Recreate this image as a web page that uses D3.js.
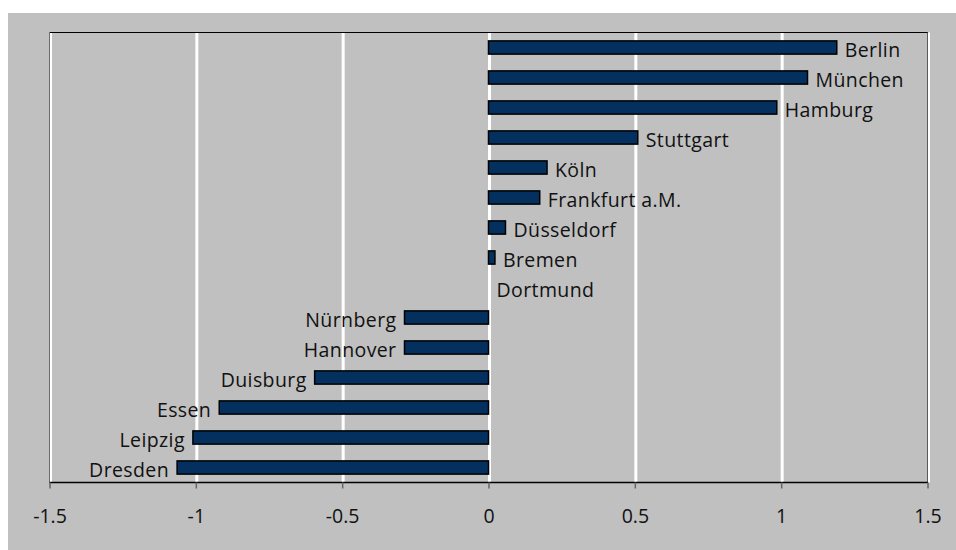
<!DOCTYPE html>
<html>
<head>
<meta charset="utf-8">
<script src="https://cdn.jsdelivr.net/npm/d3@7"></script>
<style>
  html, body { margin: 0; padding: 0; background: #ffffff; }
  svg { display: block; }
  text { font-family: "Open Sans", "Noto Sans", sans-serif; fill: #111; }
</style>
</head>
<body>
<svg id="chart" width="956" height="550"></svg>
<script>
const cities = ["Berlin","München","Hamburg","Stuttgart","Köln","Frankfurt a.M.","Düsseldorf","Bremen","Dortmund","Nürnberg","Hannover","Duisburg","Essen","Leipzig","Dresden"];
const values = [1.19, 1.09, 0.985, 0.51, 0.2, 0.175, 0.058, 0.022, 0, -0.287, -0.287, -0.594, -0.92, -1.01, -1.064];
const xTicks = [-1.5, -1, -0.5, 0, 0.5, 1, 1.5];
const xDomain = [-1.5, 1.5];

const svg = d3.select("#chart");
const W = 956, H = 550;
const bg = {x: 8, y: 13};
const m = {left: 49.5, right: 928, top: 32.5, bottom: 482.5};

svg.append("rect").attr("x", bg.x).attr("y", bg.y)
  .attr("width", W - bg.x).attr("height", H - bg.y).attr("fill", "#c0c0c0");

const x = d3.scaleLinear().domain(xDomain).range([m.left, m.right - 0.5]);
const y = d3.scaleBand().domain(cities).range([m.top, m.bottom]).paddingInner(0.56).paddingOuter(0.28);

// gridlines
svg.append("g").selectAll("line").data(xTicks).join("line")
  .attr("x1", d => x(d) + 1).attr("x2", d => x(d) + 1)
  .attr("y1", m.top).attr("y2", m.bottom)
  .attr("stroke", "#ffffff").attr("stroke-width", 3);

// plot border
svg.append("line").attr("x1", m.left).attr("x2", m.right).attr("y1", m.top).attr("y2", m.top)
  .attr("stroke", "#000").attr("stroke-width", 1);
svg.append("line").attr("x1", m.left).attr("x2", m.left).attr("y1", m.top).attr("y2", m.bottom)
  .attr("stroke", "#6e6e6e").attr("stroke-width", 1);
svg.append("line").attr("x1", m.right - 0.5).attr("x2", m.right - 0.5).attr("y1", m.top).attr("y2", m.bottom)
  .attr("stroke", "#5a5a5a").attr("stroke-width", 1);

// bars
const data = cities.map((c, i) => ({c, v: values[i]}));
svg.append("g").selectAll("rect").data(data.filter(d => d.v !== 0)).join("rect")
  .attr("x", d => x(Math.min(0, d.v)))
  .attr("y", d => y(d.c))
  .attr("width", d => Math.abs(x(d.v) - x(0)))
  .attr("height", y.bandwidth())
  .attr("fill", "#03305f")
  .attr("stroke", "#000").attr("stroke-width", 1.5);

// labels
svg.append("g").selectAll("text").data(data).join("text")
  .attr("x", d => d.v >= 0 ? x(d.v) + 8 : x(d.v) - 8)
  .attr("y", d => y(d.c) + y.bandwidth() / 2)
  .attr("dy", "0.47em")
  .attr("text-anchor", d => d.v >= 0 ? "start" : "end")
  .style("font-size", "19.5px")
  .style("letter-spacing", "0.4px")
  .text(d => d.c);

// x axis
const axis = d3.axisBottom(x).tickValues(xTicks).tickSize(6).tickPadding(21).tickFormat(d => String(d));
const ax = svg.append("g").attr("transform", `translate(0,${m.bottom})`).call(axis);
ax.select(".domain").attr("stroke", "#000").attr("stroke-width", 1.5).attr("d", `M${m.left},0H${m.right}`);
ax.selectAll(".tick line").attr("stroke", "#666").attr("stroke-width", 1.5);
ax.selectAll(".tick text").style("font-size", "19.5px").style("font-family", '"Open Sans", sans-serif').attr("fill", "#111");
</script>
</body>
</html>
